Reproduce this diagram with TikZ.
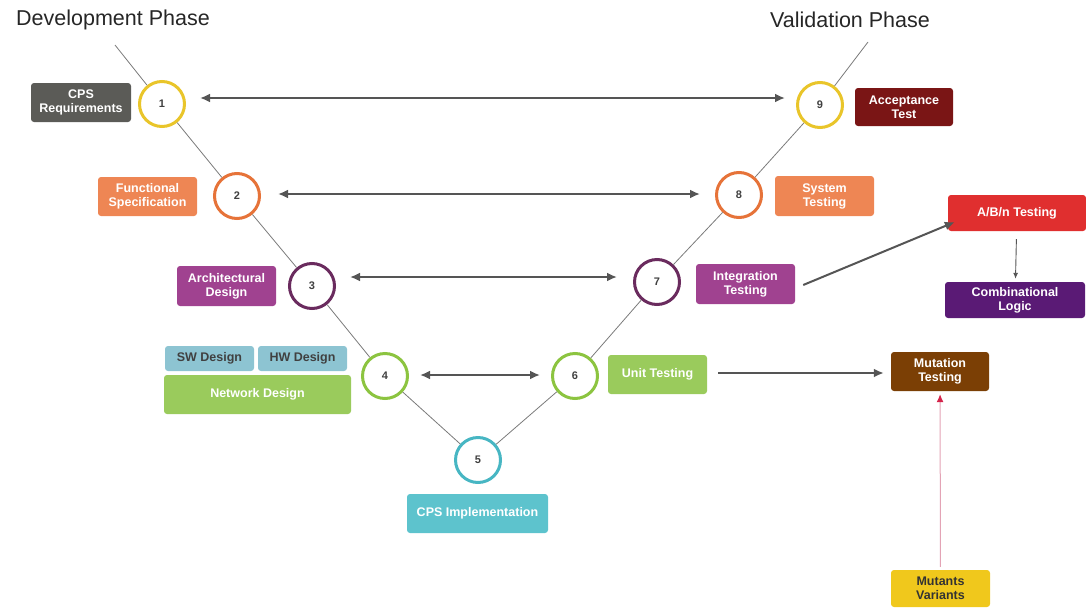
\documentclass[tikz,border=0pt]{standalone}
\usepackage{fontspec}
\setmainfont{Liberation Sans}
\usetikzlibrary{arrows.meta,calc}
\definecolor{cgray}{HTML}{5B5B57}
\definecolor{corange}{HTML}{EE8654}
\definecolor{cpurple}{HTML}{A04290}
\definecolor{cblue}{HTML}{8DC4D2}
\definecolor{cgreen}{HTML}{9ACB5C}
\definecolor{cteal}{HTML}{5DC3CD}
\definecolor{cdred}{HTML}{7A1515}
\definecolor{cred}{HTML}{E02F2F}
\definecolor{cdpurple}{HTML}{5A1A75}
\definecolor{cbrown}{HTML}{7B3F05}
\definecolor{cyellow}{HTML}{F0C81C}
\definecolor{kyellow}{HTML}{E9C52A}
\definecolor{korange}{HTML}{E67339}
\definecolor{kpurple}{HTML}{6A2B5E}
\definecolor{kgreen}{HTML}{8CC440}
\definecolor{kteal}{HTML}{47B6C3}
\definecolor{arrowc}{HTML}{555555}
\definecolor{vline}{HTML}{7A7A7A}
\definecolor{pinkline}{HTML}{E3A3B5}
\definecolor{pinkhead}{HTML}{D4234A}
\tikzset{
  phase/.style={circle,minimum size=45pt,inner sep=0pt,line width=3pt,fill=white,
    font=\bfseries\fontsize{11}{12}\selectfont,text=black!75},
  box/.style={rounded corners=3pt,inner sep=0pt,align=center,text=white,
    font=\bfseries\fontsize{12.5}{14}\selectfont},
  dbl/.style={arrowc,line width=2pt,{Latex[length=10pt,width=9pt]}-{Latex[length=10pt,width=9pt]}},
  sgl/.style={arrowc,line width=2pt,-{Latex[length=10pt,width=9pt]}},
}
\begin{document}
\begin{tikzpicture}[x=1pt,y=-1pt]
\useasboundingbox (0,0) rectangle (1086,608);
% titles
\node[font=\fontsize{21.5}{24}\selectfont,text=black!85] (devt) at (113,20) {Development Phase};
\node[font=\fontsize{21.5}{24}\selectfont,text=black!85] (valt) at (850,20) {Validation Phase};
% V coordinates and circles
\coordinate (tl) at (115,45);
\coordinate (tr) at (868,42);
\node[phase,draw=kyellow] (c1) at (162,104) {1};
\node[phase,draw=korange] (c2) at (237,196) {2};
\node[phase,draw=kpurple] (c3) at (312,286) {3};
\node[phase,draw=kgreen] (c4) at (385,376) {4};
\node[phase,draw=kteal] (c5) at (478,460) {5};
\node[phase,draw=kgreen] (c6) at (575,376) {6};
\node[phase,draw=kpurple] (c7) at (657,282) {7};
\node[phase,draw=korange] (c8) at (739,195) {8};
\node[phase,draw=kyellow] (c9) at (820,105) {9};
\draw[vline,line width=0.8pt] (tl) -- (c1) -- (c2) -- (c3) -- (c4) -- (c5) -- (c6) -- (c7) -- (c8) -- (c9) -- (tr);
% boxes left
\node[box,fill=cgray,minimum width=100pt,minimum height=39pt] (req) at (81,102.5) {CPS\\Requirements};
\node[box,fill=corange,minimum width=99pt,minimum height=39pt] (fun) at (147.5,196.5) {Functional\\Specification};
\node[box,fill=cpurple,minimum width=99pt,minimum height=40pt] (arch) at (226.5,286) {Architectural\\Design};
\node[box,fill=cblue,text=black!75,minimum width=89pt,minimum height=25pt] (sw) at (209.5,358.5) {SW Design};
\node[box,fill=cblue,text=black!75,minimum width=89pt,minimum height=25pt] (hw) at (302.5,358.5) {HW Design};
\node[box,fill=cgreen,minimum width=187pt,minimum height=39pt] (net) at (257.5,394.5) {Network Design};
\node[box,fill=cteal,minimum width=141pt,minimum height=39pt] (impl) at (477.5,513.5) {CPS Implementation};
% boxes right
\node[box,fill=cgreen,minimum width=99pt,minimum height=39pt] (unit) at (657.5,374.5) {Unit Testing};
\node[box,fill=cpurple,minimum width=99pt,minimum height=40pt] (integ) at (745.5,284) {Integration\\Testing};
\node[box,fill=corange,minimum width=99pt,minimum height=40pt] (sys) at (824.5,196) {System\\Testing};
\node[box,fill=cdred,minimum width=98pt,minimum height=38pt] (acc) at (904,107) {Acceptance\\Test};
\node[box,fill=cred,minimum width=138pt,minimum height=36pt] (ab) at (1017,213) {A/B/n Testing};
\node[box,fill=cdpurple,minimum width=140pt,minimum height=36pt] (comb) at (1015,300) {Combinational\\Logic};
\node[box,fill=cbrown,minimum width=98pt,minimum height=39pt] (mut) at (940,371.5) {Mutation\\Testing};
\node[box,fill=cyellow,text=black!80,minimum width=99pt,minimum height=37pt] (mv) at (940.5,588.5) {Mutants\\Variants};
% arrows
\draw[dbl] ($(c1.east)+(14,-6)$) -- ($(c9.west)+(-11,-7)$);
\draw[dbl] ($(c2.east)+(17,-2)$) -- ($(c8.west)+(-15,-1)$);
\draw[dbl] ($(c3.east)+(14,-9)$) -- ($(c7.west)+(-16,-5)$);
\draw[dbl] ($(c4.east)+(11,-1)$) -- ($(c6.west)+(-11,-1)$);
\draw[sgl] ($(integ.east)+(8,1)$) -- ($(ab.west)+(7,9)$);
\draw[arrowc,line width=0.9pt,-{Latex[length=6pt,width=5pt]},shorten <=8pt,shorten >=3pt] (ab) -- (comb);
\draw[sgl,shorten <=11pt,shorten >=7pt] ($(unit.east)+(0,-1.5)$) -- ($(mut.west)+(0,1.5)$);
\draw[pinkline,line width=1pt,-{Latex[length=8pt,width=7pt,fill=pinkhead,color=pinkhead]},shorten <=3pt,shorten >=3pt] (mv) -- (mut);
\end{tikzpicture}
\end{document}
